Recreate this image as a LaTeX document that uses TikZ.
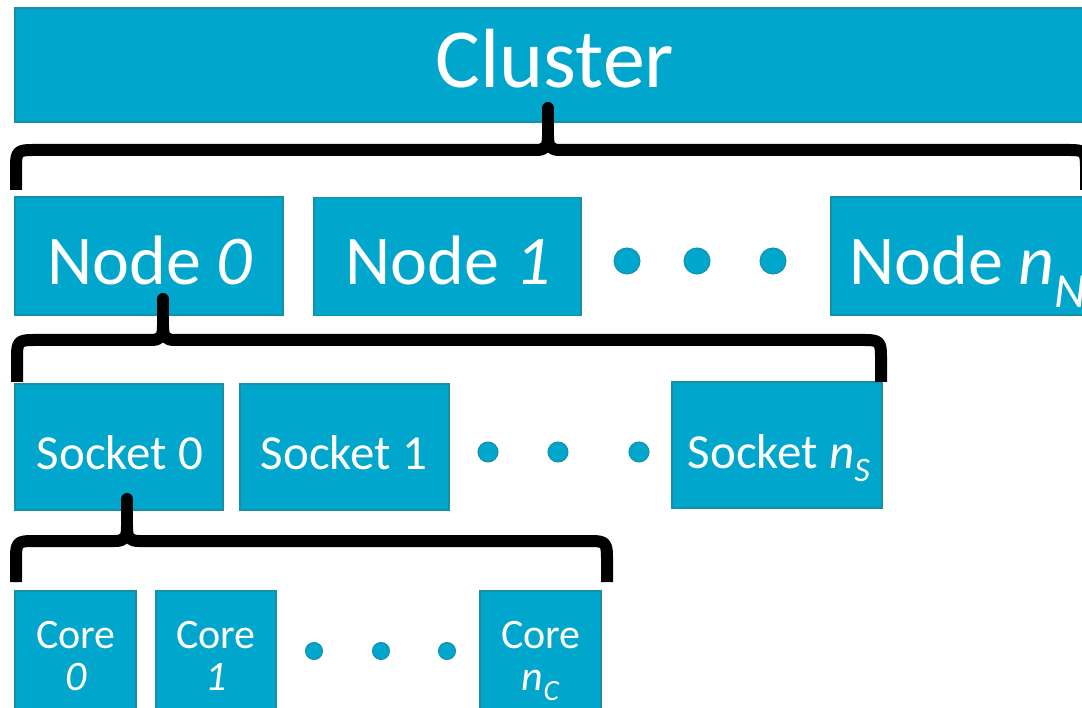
\documentclass[tikz,border=0pt]{standalone}
\usepackage{fontspec}
\setmainfont{Carlito}
\definecolor{boxblue}{HTML}{00A6CB}
\definecolor{boxedge}{HTML}{1590A8}
\begin{document}
\begin{tikzpicture}[x=1pt,y=-1pt,
  blk/.style={rectangle, draw=boxedge, fill=boxblue, line width=1.5pt, inner sep=0pt},
  dotn/.style={circle, draw=boxedge, fill=boxblue, line width=1pt, inner sep=0pt},
  lbl/.style={text=white, anchor=base, inner sep=0pt},
  brace/.style={line width=12pt, line cap=butt, line join=round},
  stem/.style={line width=12pt, line cap=round}
]
\useasboundingbox (0,0) rectangle (1082,708);
\clip (0,0) rectangle (1082,708);

% Cluster
\node[blk, minimum width=1085pt, minimum height=114pt] (cluster) at (557.5,65) {};
\node[lbl, font=\fontsize{84}{90}\selectfont] (clusterT) at (555,88) {Cluster};

% Nodes
\node[blk, minimum width=268pt, minimum height=118pt] (node0) at (149,256) {};
\node[blk, minimum width=267pt, minimum height=118pt] (node1) at (447.5,256.5) {};
\node[blk, minimum width=269pt, minimum height=118pt] (nodeN) at (965.5,256) {};
\node[lbl, font=\fontsize{70}{76}\selectfont] (node0T) at (150,285) {Node \textit{0}};
\node[lbl, font=\fontsize{70}{76}\selectfont] (node1T) at (448,285) {Node \textit{1}};
\node[lbl, anchor=base west, font=\fontsize{70}{76}\selectfont] (nodeNT) at (849,285) {Node \textit{n}\textsubscript{\textit{N}}};
\node[dotn, minimum size=26pt] (nd1) at (627,261) {};
\node[dotn, minimum size=26pt] (nd2) at (697,261) {};
\node[dotn, minimum size=26pt] (nd3) at (773,261) {};

% Sockets
\node[blk, minimum width=208pt, minimum height=126pt] (sock0) at (119,447) {};
\node[blk, minimum width=209pt, minimum height=126pt] (sock1) at (344.5,447) {};
\node[blk, minimum width=210pt, minimum height=126pt] (sockN) at (777,445) {};
\node[lbl, font=\fontsize{49}{54}\selectfont] (sock0T) at (120,470) {Socket 0};
\node[lbl, font=\fontsize{49}{54}\selectfont] (sock1T) at (344,470) {Socket 1};
\node[lbl, font=\fontsize{49}{54}\selectfont] (sockNT) at (779,468) {Socket \textit{n}\textsubscript{\textit{S}}};
\node[dotn, minimum size=20pt] (sd1) at (488,452) {};
\node[dotn, minimum size=20pt] (sd2) at (558,452) {};
\node[dotn, minimum size=20pt] (sd3) at (639,452) {};

% Cores
\node[blk, minimum width=121pt, minimum height=129pt] (core0) at (75.5,655.5) {};
\node[blk, minimum width=120pt, minimum height=129pt] (core1) at (216,655.5) {};
\node[blk, minimum width=121pt, minimum height=129pt] (coreN) at (540.5,655.5) {};
\node[lbl, font=\fontsize{42}{46}\selectfont] (core0T) at (76,648) {Core};
\node[lbl, font=\fontsize{42}{46}\selectfont] (core0U) at (76,690) {\textit{0}};
\node[lbl, font=\fontsize{42}{46}\selectfont] (core1T) at (216,648) {Core};
\node[lbl, font=\fontsize{42}{46}\selectfont] (core1U) at (216,690) {\textit{1}};
\node[lbl, font=\fontsize{42}{46}\selectfont] (coreNT) at (541,648) {Core};
\node[lbl, font=\fontsize{42}{46}\selectfont] (coreNU) at (541,690) {\textit{n}\textsubscript{\textit{C}}};
\node[dotn, minimum size=17pt] (cd1) at (314,651) {};
\node[dotn, minimum size=17pt] (cd2) at (381,651) {};
\node[dotn, minimum size=17pt] (cd3) at (447,651) {};

% Brace coordinates
\coordinate (cbL) at (16,190);
\coordinate (cbR) at (1086,190);
\coordinate (cbTip) at (548,108);
\coordinate (nbL) at (17,382);
\coordinate (nbR) at (881,382);
\coordinate (nbTip) at (163,299);
\coordinate (sbL) at (16,582);
\coordinate (sbR) at (607,582);
\coordinate (sbTip) at (127,499);

% Cluster brace
\draw[brace] (cbL) -- (16,166) .. controls (16,152) and (18,150) .. (32,150) -- (536,150) .. controls (546,150) and (548,146) .. (548,136);
\draw[brace] (cbR) -- (1086,166) .. controls (1086,152) and (1084,150) .. (1070,150) -- (560,150) .. controls (550,150) and (548,146) .. (548,136);
\draw[stem] (548,140) -- (cbTip);

% Node brace
\draw[brace] (nbL) -- (17,356) .. controls (17,342) and (19,340) .. (33,340) -- (151,340) .. controls (161,340) and (163,336) .. (163,326);
\draw[brace] (nbR) -- (881,356) .. controls (881,342) and (879,340) .. (865,340) -- (175,340) .. controls (165,340) and (163,336) .. (163,326);
\draw[stem] (163,330) -- (nbTip);

% Socket brace
\draw[brace] (sbL) -- (16,557) .. controls (16,543) and (18,541) .. (32,541) -- (115,541) .. controls (125,541) and (127,537) .. (127,527);
\draw[brace] (sbR) -- (607,557) .. controls (607,543) and (605,541) .. (591,541) -- (139,541) .. controls (129,541) and (127,537) .. (127,527);
\draw[stem] (127,531) -- (sbTip);
\end{tikzpicture}
\end{document}
